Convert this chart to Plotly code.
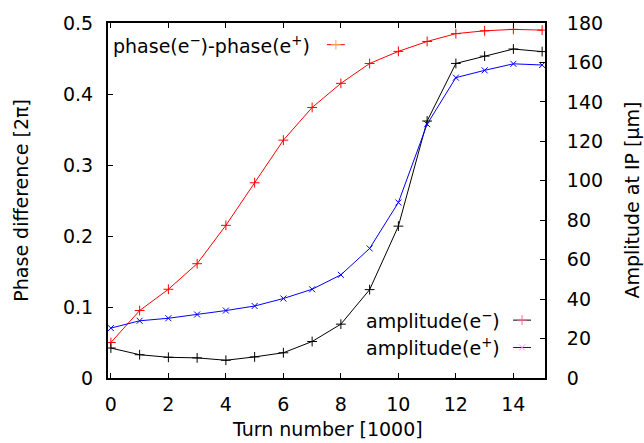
import plotly.graph_objects as go

# Turn number in units of 1000 turns
turns = [0, 1, 2, 3, 4, 5, 6, 7, 8, 9, 10, 11, 12, 13, 14, 15]

# Phase difference between e- and e+ (units of 2*pi)
phase_diff = [0.050, 0.095, 0.125, 0.161, 0.215, 0.275, 0.335, 0.381,
              0.415, 0.443, 0.460, 0.474, 0.485, 0.489, 0.491, 0.490]

# Oscillation amplitude at the IP (micrometres)
amp_eminus = [15.2, 11.8, 10.5, 10.2, 9.0, 10.7, 12.8, 18.5,
              27.3, 44.8, 77.0, 130.3, 159.5, 163.2, 166.8, 165.5]
amp_eplus = [25.3, 29.0, 30.3, 32.2, 34.2, 36.5, 40.3, 45.0,
             52.3, 65.7, 89.0, 128.7, 152.3, 156.0, 159.3, 158.7]

FONT = "DejaVu Sans, Verdana, sans-serif"
FS = 19

RED = "#ff0000"
BLACK = "#000000"
BLUE = "#0000ff"

PLUS = dict(symbol="cross-thin-open", size=7)
CROSS = dict(symbol="x-thin-open", size=6)

fig = go.Figure()

fig.add_trace(go.Scatter(
    x=turns, y=phase_diff, mode="lines+markers", xaxis="x", yaxis="y",
    line=dict(color=RED, width=1),
    marker=dict(**PLUS, line=dict(color=RED, width=1)),
    showlegend=False))
fig.add_trace(go.Scatter(
    x=turns, y=amp_eminus, mode="lines+markers", xaxis="x", yaxis="y2",
    line=dict(color=BLACK, width=1),
    marker=dict(**PLUS, line=dict(color=BLACK, width=1)),
    showlegend=False))
fig.add_trace(go.Scatter(
    x=turns, y=amp_eplus, mode="lines+markers", xaxis="x", yaxis="y2",
    line=dict(color=BLUE, width=1),
    marker=dict(**CROSS, line=dict(color=BLUE, width=1)),
    showlegend=False))

# Key samples (short line with one point marker) on a hidden unit overlay axis
keys = [
    ("phase(e<sup>\u2212</sup>)-phase(e<sup>+</sup>)", RED, PLUS, 0.467, 0.501, 0.542, 0.939),
    ("amplitude(e<sup>\u2212</sup>)", BLACK, PLUS, 0.901, 0.927, 0.968, 0.163),
    ("amplitude(e<sup>+</sup>)", BLUE, CROSS, 0.901, 0.927, 0.968, 0.086),
]
annotations = []
for label, col, sym, tx, x0, x1, ky in keys:
    fig.add_trace(go.Scatter(
        x=[x0, x1], y=[ky, ky], mode="lines", xaxis="x3", yaxis="y3",
        line=dict(color=col, width=1), showlegend=False, hoverinfo="skip"))
    fig.add_trace(go.Scatter(
        x=[(x0 + x1) / 2], y=[ky], mode="markers", xaxis="x3", yaxis="y3",
        marker=dict(**sym, line=dict(color=col, width=1)),
        showlegend=False, hoverinfo="skip"))
    annotations.append(dict(
        text=label, xref="x3", yref="y3", x=tx, y=ky, xanchor="right",
        yanchor="middle", showarrow=False, font=dict(family=FONT, size=FS, color="black")))

# Axis titles
annotations += [
    dict(text="Phase difference [2\u03c0]", xref="paper", yref="paper",
         x=-0.201, y=0.5, textangle=-90, showarrow=False,
         xanchor="center", yanchor="middle", font=dict(family=FONT, size=FS)),
    dict(text="Amplitude at IP [\u03bcm]", xref="paper", yref="paper",
         x=1.197, y=0.5, textangle=-90, showarrow=False,
         xanchor="center", yanchor="middle", font=dict(family=FONT, size=FS)),
    dict(text="Turn number [1000]", xref="paper", yref="paper",
         x=0.502, y=-0.144, showarrow=False,
         xanchor="center", yanchor="middle", font=dict(family=FONT, size=FS)),
]

axis_common = dict(
    showgrid=False, zeroline=False, ticks="inside", ticklen=5, tickwidth=1,
    tickcolor="black", showline=True, linecolor="black", linewidth=2,
    tickfont=dict(family=FONT, size=FS, color="black"),
)

fig.update_layout(
    width=644, height=443,
    margin=dict(l=108, r=99, t=18, b=65),
    paper_bgcolor="white", plot_bgcolor="white",
    font=dict(family=FONT, size=FS, color="black"),
    xaxis=dict(range=[-0.1, 15.1], tickvals=[0, 2, 4, 6, 8, 10, 12, 14],
               mirror="ticks", ticklabelstandoff=8, **axis_common),
    yaxis=dict(range=[0, 0.5], tickvals=[0, 0.1, 0.2, 0.3, 0.4, 0.5],
               ticktext=["0", "0.1", "0.2", "0.3", "0.4", "0.5"],
               ticklabelstandoff=9, **axis_common),
    yaxis2=dict(range=[0, 180], tickvals=list(range(0, 181, 20)),
                overlaying="y", side="right", anchor="x",
                ticklabelstandoff=16, **axis_common),
    xaxis3=dict(range=[0, 1], overlaying="x", visible=False, fixedrange=True),
    yaxis3=dict(range=[0, 1], overlaying="y", visible=False, fixedrange=True),
    annotations=annotations,
    showlegend=False,
)

fig.write_html("out.html")
